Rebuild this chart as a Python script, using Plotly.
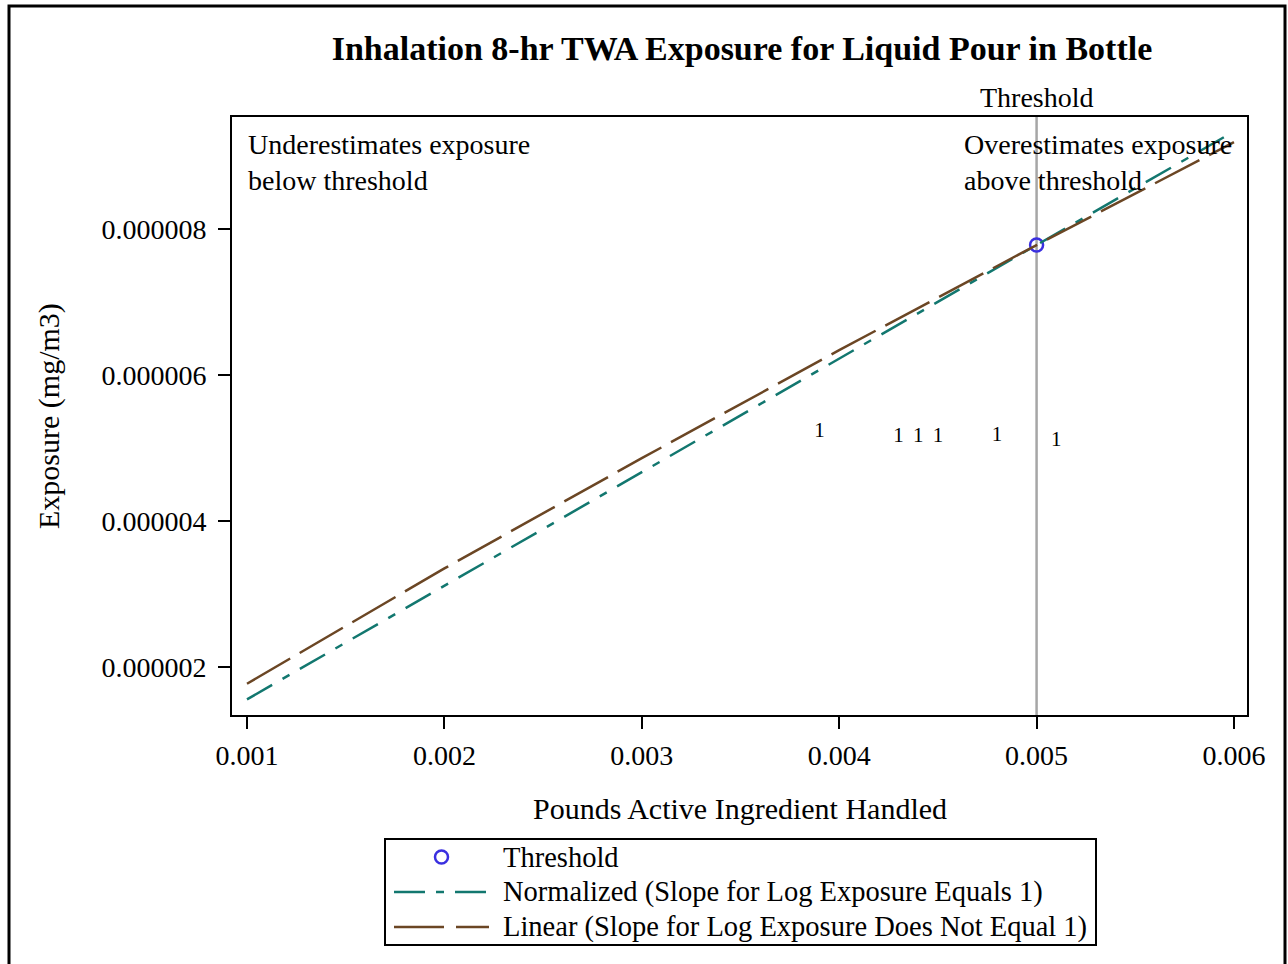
import plotly.graph_objects as go

# ---- data ----
line_x = [0.001, 0.002, 0.003, 0.004, 0.005, 0.006]
normalized_y = [1.556e-6, 3.112e-6, 4.668e-6, 6.224e-6, 7.78e-6, 9.336e-6]
linear_y = [1.77e-6, 3.35e-6, 4.86e-6, 6.34e-6, 7.78e-6, 9.19e-6]

threshold_x = [0.005]
threshold_y = [7.78e-6]

obs_x = [0.0039, 0.0043, 0.0044, 0.0045, 0.0048, 0.0051]
obs_y = [5.22e-6, 5.15e-6, 5.15e-6, 5.15e-6, 5.17e-6, 5.10e-6]
obs_label = ["1", "1", "1", "1", "1", "1"]

x_ticks = [0.001, 0.002, 0.003, 0.004, 0.005, 0.006]
y_ticks = [2e-6, 4e-6, 6e-6, 8e-6]
y_tick_text = ["0.000002", "0.000004", "0.000006", "0.000008"]

legend_labels = ["Threshold",
                 "Normalized (Slope for Log Exposure Equals 1)",
                 "Linear (Slope for Log Exposure Does Not Equal 1)"]

FONT = "Liberation Serif"
TEAL = "#12776f"
BROWN = "#6b4624"
BLUE = "#3a2fe0"
TEAL_DASH = "29px,12px,8px,12px"
BROWN_DASH = "50px,11px"

fig = go.Figure()

fig.add_trace(go.Scatter(
    x=obs_x, y=obs_y, mode="text", text=obs_label,
    textfont=dict(family=FONT, size=21, color="black"),
    showlegend=False, hoverinfo="skip"))

fig.add_trace(go.Scatter(
    x=threshold_x, y=threshold_y, mode="markers", name=legend_labels[0],
    showlegend=False,
    marker=dict(symbol="circle-open", size=13, color=BLUE,
                line=dict(width=2.5, color=BLUE))))

fig.add_trace(go.Scatter(
    x=line_x, y=normalized_y, mode="lines", name=legend_labels[1],
    showlegend=False,
    line=dict(color=TEAL, width=2.5, dash=TEAL_DASH)))

fig.add_trace(go.Scatter(
    x=line_x, y=linear_y, mode="lines", name=legend_labels[2],
    showlegend=False,
    line=dict(color=BROWN, width=2.5, dash=BROWN_DASH)))

# plot area in page pixels: x 232..1247, y 117..715
W, H = 1288, 964
PX0, PX1, PY0, PY1 = 232, 1247, 117, 715
L, T = PX0, PY0
pw, ph = PX1 - PX0, PY1 - PY0
R, B = W - L - pw, H - T - ph

def px2paper_x(px):
    return (px - PX0) / pw

def px2paper_y(py):
    return (PY1 - py) / ph

shapes = [
    dict(type="line", xref="x", yref="paper", x0=0.005, x1=0.005, y0=0, y1=1,
         line=dict(color="#a6a6a6", width=2.5), layer="below"),
    # outer frame
    dict(type="rect", xref="paper", yref="paper",
         x0=px2paper_x(9), x1=px2paper_x(1285), y0=px2paper_y(990), y1=px2paper_y(6),
         line=dict(color="black", width=3)),
    # legend box
    dict(type="rect", xref="paper", yref="paper",
         x0=px2paper_x(385), x1=px2paper_x(1096), y0=px2paper_y(945), y1=px2paper_y(839),
         line=dict(color="black", width=2), fillcolor="white"),
    # legend symbols
    dict(type="circle", xref="paper", yref="paper",
         x0=px2paper_x(441.5 - 6.5), x1=px2paper_x(441.5 + 6.5),
         y0=px2paper_y(857 + 6.5), y1=px2paper_y(857 - 6.5),
         line=dict(color=BLUE, width=2.5)),
    dict(type="line", xref="paper", yref="paper",
         x0=px2paper_x(394), x1=px2paper_x(487), y0=px2paper_y(892), y1=px2paper_y(892),
         line=dict(color=TEAL, width=2.5, dash="31px,11px,8px,11px")),
    dict(type="line", xref="paper", yref="paper",
         x0=px2paper_x(394), x1=px2paper_x(489), y0=px2paper_y(927), y1=px2paper_y(927),
         line=dict(color=BROWN, width=2.5, dash="50px,12px")),
]

annotations = [
    dict(xref="paper", yref="paper", x=px2paper_x(246), y=px2paper_y(127),
         xanchor="left", yanchor="top", align="left", showarrow=False,
         text="Underestimates exposure<br>below threshold",
         font=dict(family=FONT, size=28, color="black")),
    dict(xref="paper", yref="paper", x=px2paper_x(962), y=px2paper_y(127),
         xanchor="left", yanchor="top", align="left", showarrow=False,
         text="Overestimates exposure<br>above threshold",
         font=dict(family=FONT, size=28, color="black")),
    dict(xref="x", yref="paper", x=0.005, y=px2paper_y(97),
         xanchor="center", yanchor="middle", showarrow=False,
         text="Threshold", font=dict(family=FONT, size=28, color="black")),
    dict(xref="paper", yref="paper", x=px2paper_x(740), y=px2paper_y(808),
         xanchor="center", yanchor="middle", showarrow=False,
         text="Pounds Active Ingredient Handled",
         font=dict(family=FONT, size=30, color="black")),
    dict(xref="paper", yref="paper", x=px2paper_x(49), y=px2paper_y(416),
         xanchor="center", yanchor="middle", showarrow=False, textangle=-90,
         text="Exposure (mg/m3)",
         font=dict(family=FONT, size=30, color="black")),
]
for label, row_y in zip(legend_labels, [857, 892, 927]):
    annotations.append(dict(
        xref="paper", yref="paper", x=px2paper_x(501), y=px2paper_y(row_y),
        xanchor="left", yanchor="middle", showarrow=False, text=label,
        font=dict(family=FONT, size=28.5, color="black")))

fig.update_layout(
    width=W, height=H,
    margin=dict(l=L, r=R, t=T, b=B),
    paper_bgcolor="white", plot_bgcolor="white",
    title=dict(text="<b>Inhalation 8-hr TWA Exposure for Liquid Pour in Bottle</b>",
               x=px2paper_x(742), xref="paper", xanchor="center",
               y=1 - 48 / H, yanchor="middle",
               font=dict(family=FONT, size=34, color="black")),
    font=dict(family=FONT, size=28, color="black"),
    showlegend=False,
    shapes=shapes,
    annotations=annotations,
)

fig.update_xaxes(range=[0.000924, 0.006066], tickvals=x_ticks,
                 ticktext=[f"{v:.3f}" for v in x_ticks],
                 showgrid=False, zeroline=False, showline=True, linecolor="black",
                 linewidth=2, mirror=True, ticks="outside", ticklen=12, tickwidth=2,
                 tickcolor="black", ticklabelstandoff=2,
                 tickfont=dict(family=FONT, size=28, color="black"))
fig.update_yaxes(range=[1.342e-6, 9.534e-6], tickvals=y_ticks, ticktext=y_tick_text,
                 showgrid=False, zeroline=False, showline=True, linecolor="black",
                 linewidth=2, mirror=True, ticks="outside", ticklen=12, tickwidth=2,
                 tickcolor="black", ticklabelstandoff=6,
                 tickfont=dict(family=FONT, size=28, color="black"))

fig.write_html("out.html", config={"displayModeBar": False},
               post_script="document.body.style.margin='0';document.body.style.overflow='hidden';")
